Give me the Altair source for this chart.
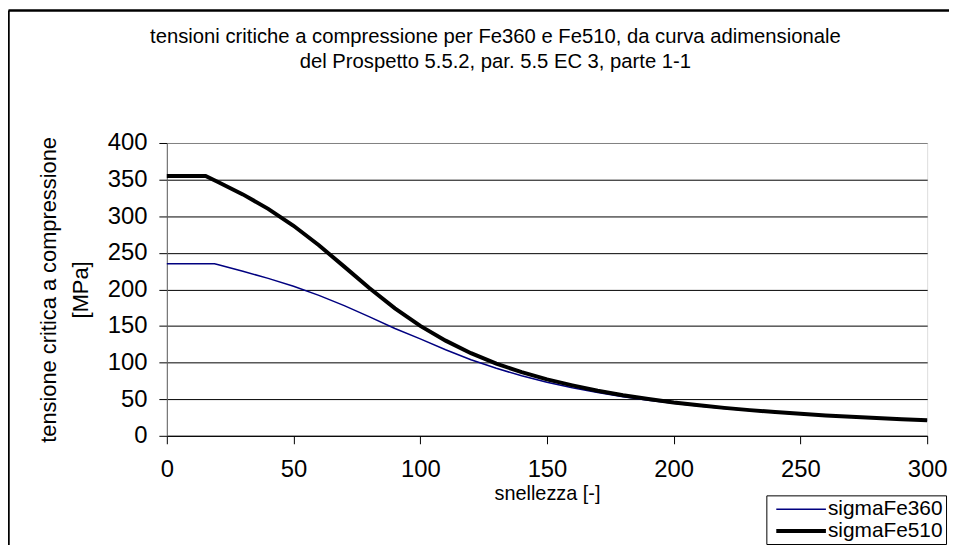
import altair as alt
import pandas as pd

# ---- data ----
x_fe360 = [0, 18.8, 20, 30, 40, 50, 60, 70, 80, 90, 100, 110, 120, 130, 140, 150,
           160, 170, 180, 190, 200, 210, 220, 230, 240, 250, 260, 270, 280, 290, 300]
y_fe360 = [235, 235, 233.9, 224.8, 215.1, 204.2, 191.8, 177.8, 162.5, 146.6, 132.5,
           117.5, 104.0, 92.2, 82.0, 73.2, 65.6, 59.1, 53.5, 48.6, 44.4, 40.6, 37.3,
           34.4, 31.8, 29.5, 27.4, 25.6, 23.9, 22.3, 20.9]
x_fe510 = [0, 15.3, 20, 30, 40, 50, 60, 70, 80, 90, 100, 110, 120, 130, 140, 150,
           160, 170, 180, 190, 200, 210, 220, 230, 240, 250, 260, 270, 280, 290, 300]
y_fe510 = [355, 355, 347.1, 329.8, 310.0, 286.9, 260.3, 231.1, 201.6, 174.2, 150.2,
           130.0, 112.9, 98.6, 86.9, 77.0, 68.9, 61.5, 55.5, 50.3, 45.6, 41.7, 38.2,
           35.1, 32.4, 30.0, 27.8, 26.0, 24.2, 22.6, 21.2]
series_names = ["sigmaFe360", "sigmaFe510"]
series_colors = ["#000080", "#000000"]
series_widths = [1.5, 4]
x_ticks = [0, 50, 100, 150, 200, 250, 300]
y_ticks = [0, 50, 100, 150, 200, 250, 300, 350, 400]
title_lines = ["tensioni critiche a compressione per Fe360 e Fe510, da curva adimensionale",
               "del  Prospetto 5.5.2, par. 5.5 EC 3, parte 1-1"]
y_title_lines = ["tensione critica a compressione", "[MPa]"]
x_title = "snellezza [-]"

rows = []
for xs, ys, name in [(x_fe360, y_fe360, series_names[0]), (x_fe510, y_fe510, series_names[1])]:
    for xv, yv in zip(xs, ys):
        rows.append({"snellezza": xv, "tensione": yv, "serie": name})
df = pd.DataFrame(rows)

FONT = "Liberation Sans"

legend_cfg = alt.Legend(
    title=None, orient="none", legendX=604, legendY=355,
    strokeColor="black", fillColor="white", padding=3,
    symbolType="M-0.5,0H4.5", symbolSize=400, labelFontSize=21, labelFont=FONT,
    labelColor="black", labelOffset=35, rowPadding=0, symbolOpacity=1,
)

lines = alt.Chart(df).mark_line(clip=False).encode(
    x=alt.X("snellezza:Q",
            scale=alt.Scale(domain=[0, 300], nice=False),
            axis=alt.Axis(values=x_ticks, title=x_title, grid=False,
                          domainColor="black", tickColor="black", tickSize=8,
                          labelFontSize=24, labelFont=FONT, labelColor="black",
                          labelPadding=14, labelFlush=False,
                          titleFontSize=20, titleFont=FONT, titleColor="black",
                          titleFontWeight="normal", titlePadding=2)),
    y=alt.Y("tensione:Q",
            scale=alt.Scale(domain=[0, 400], nice=False),
            axis=alt.Axis(values=y_ticks, title=y_title_lines, grid=True,
                          gridColor=alt.expr("datum.value == 400 ? '#808080' : '#000000'"),
                          gridWidth=1,
                          domainColor="#606060", tickColor="black", tickSize=8,
                          labelFontSize=24, labelFont=FONT, labelColor="black",
                          labelPadding=12, labelFlush=False,
                          titleFontSize=22, titleFont=FONT, titleColor="black",
                          titleFontWeight="normal", titlePadding=15,
                          titleLineHeight=32)),
    color=alt.Color("serie:N", scale=alt.Scale(domain=series_names, range=series_colors),
                    legend=legend_cfg),
    strokeWidth=alt.StrokeWidth("serie:N",
                                scale=alt.Scale(domain=series_names, range=series_widths),
                                legend=legend_cfg),
)

one = pd.DataFrame({"k": [0]})
frame_left = alt.Chart(one).mark_rule(color="black", strokeWidth=2.5, clip=False).encode(
    x=alt.value(-159.5), y=alt.value(-133.5), y2=alt.value(700))
frame_top = alt.Chart(one).mark_rule(color="black", strokeWidth=2.5, clip=False).encode(
    y=alt.value(-133.5), x=alt.value(-159.5), x2=alt.value(800))

title_layers = []
for i, txt in enumerate(title_lines):
    title_layers.append(
        alt.Chart(pd.DataFrame({"t": [txt]})).mark_text(
            font=FONT, fontSize=20.4, color="black", align="center", baseline="middle",
            clip=False
        ).encode(text="t:N", x=alt.value(331), y=alt.value(-107 + 25 * i))
    )

chart = alt.layer(frame_left, frame_top, *title_layers, lines).properties(
    width=766, height=295,
    padding={"left": 160, "top": 134, "right": 22, "bottom": 108},
    autosize=alt.AutoSizeParams(type="none"),
).configure_view(stroke="#808080", strokeWidth=1).configure(background="white")

chart.save("out.html", embed_options={"renderer": "svg", "actions": False})
